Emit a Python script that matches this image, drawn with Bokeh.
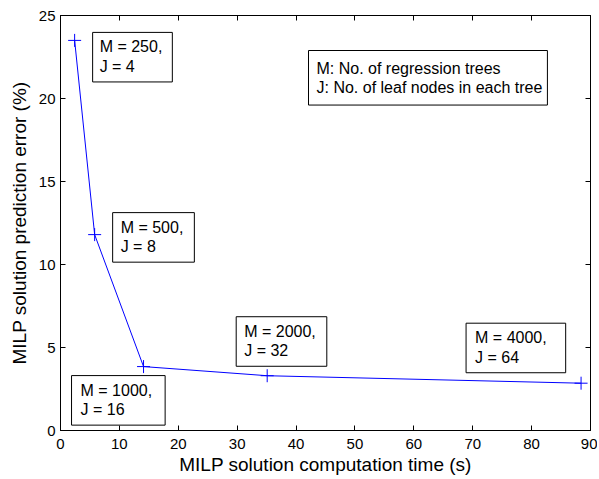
from bokeh.plotting import figure
from bokeh.models import Label, LinearAxis, Range1d, FixedTicker
from bokeh.embed import file_html
from bokeh.resources import INLINE

# data
comp_time = [2.4, 5.8, 14.1, 35.1, 88.4]
pred_error = [23.5, 11.8, 3.85, 3.3, 2.85]
labels = ["M = 250,\nJ = 4", "M = 500,\nJ = 8", "M = 1000,\nJ = 16",
          "M = 2000,\nJ = 32", "M = 4000,\nJ = 64"]
x_ticks = [0, 10, 20, 30, 40, 50, 60, 70, 80, 90]
y_ticks = [0, 5, 10, 15, 20, 25]
legend_text = "M: No. of regression trees\nJ: No. of leaf nodes in each tree"

FONT = "Liberation Sans"

p = figure(width=597, height=477, output_backend="svg", toolbar_location=None,
           x_range=Range1d(0, 90), y_range=Range1d(0, 25),
           min_border_left=60, min_border_right=7, min_border_top=15, min_border_bottom=46)
p.grid.visible = False
p.outline_line_color = "black"
p.outline_line_width = 1

for ax in [p.xaxis[0], p.yaxis[0]]:
    ax.major_tick_in = 5
    ax.major_tick_out = 0
    ax.minor_tick_line_color = None
    ax.major_label_text_font = FONT
    ax.major_label_text_font_size = "15px"
    ax.major_label_text_color = "black"
    ax.axis_label_text_font = FONT
    ax.axis_label_text_font_size = "19px"
    ax.axis_label_text_font_style = "normal"
    ax.axis_label_text_color = "black"
    ax.axis_line_color = "black"
p.xaxis[0].ticker = FixedTicker(ticks=x_ticks)
p.yaxis[0].ticker = FixedTicker(ticks=y_ticks)
p.xaxis[0].axis_label = "MILP solution computation time (s)"
p.yaxis[0].axis_label = "MILP solution prediction error (%)"
p.xaxis[0].major_label_standoff = 8
p.yaxis[0].major_label_standoff = 5
p.xaxis[0].axis_label_standoff = 2
p.yaxis[0].axis_label_standoff = 6

top = LinearAxis(ticker=FixedTicker(ticks=x_ticks), major_tick_in=5, major_tick_out=0,
                 minor_tick_line_color=None,
                 major_label_overrides={t: "" for t in x_ticks},
                 major_label_standoff=0, axis_line_color="black")
right = LinearAxis(ticker=FixedTicker(ticks=y_ticks), major_tick_in=5, major_tick_out=0,
                   minor_tick_line_color=None,
                   major_label_overrides={t: "" for t in y_ticks},
                   major_label_standoff=0, axis_line_color="black")
p.add_layout(top, "above")
p.add_layout(right, "right")

p.line(comp_time, pred_error, line_color="#0000ff", line_width=1)
p.scatter(comp_time, pred_error, marker="cross", size=13, line_color="#0000ff", line_width=1)

offsets = [(18, 8), (18, 22), (-72, -9), (-31, 59), (-115, 60)]
pads = [(7, 10), (8, 11), (9, 13), (8, 11), (9, 19)]
for xv, yv, t, (dx, dy), (pl, pr) in zip(comp_time, pred_error, labels, offsets, pads):
    p.add_layout(Label(x=xv, y=yv, x_offset=dx, y_offset=dy, text=t,
                       anchor="top_left", text_font=FONT, text_font_size="16px",
                       text_color="black", text_line_height=1.15,
                       padding=dict(left=pl, right=pr, top=6, bottom=7),
                       border_line_color="black", border_line_width=1,
                       background_fill_color="white"))

p.add_layout(Label(x=248, y=380, x_units="screen", y_units="screen", text=legend_text,
                   anchor="top_left", text_font=FONT, text_font_size="16px",
                   text_color="black", text_line_height=1.15,
                   padding=dict(left=8, right=5, top=9, bottom=9),
                   border_line_color="black", border_line_width=1,
                   background_fill_color="white"))

open("out.html", "w").write(file_html(p, INLINE))
